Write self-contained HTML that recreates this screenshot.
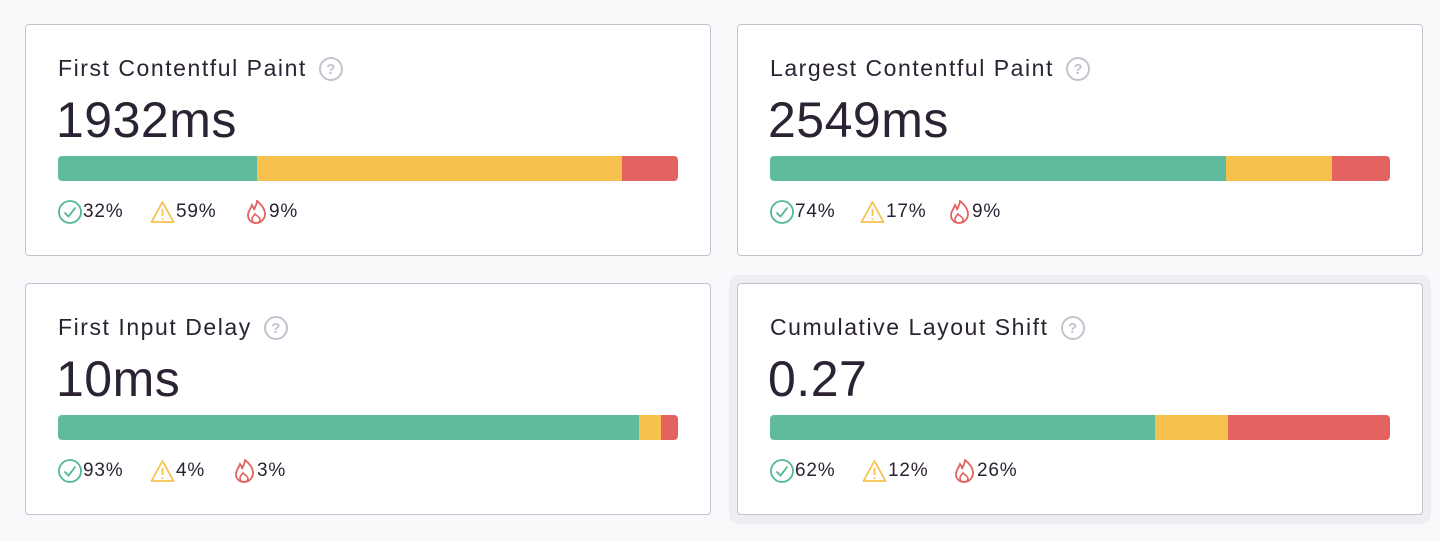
<!DOCTYPE html>
<html><head><style>
body{margin:0;width:1440px;height:541px;background:#f9f9fb;font-family:"Liberation Sans",sans-serif;color:#2b2233;position:relative;overflow:hidden}
.halo{position:absolute;left:729px;top:275px;width:702px;height:249px;background:#efedf2;border-radius:10px}
.card{position:absolute;background:#fff;border:1px solid #c6c0cf;border-radius:4px;width:686px;height:232px;box-sizing:border-box}
.t{position:absolute;left:32px;top:30px;font-size:23px;letter-spacing:1.55px;white-space:nowrap;display:flex;align-items:center}
.q{display:inline-block;width:24px;height:24px;border:2px solid #c6c0cf;border-radius:50%;box-sizing:border-box;color:#c6c0cf;font-size:15px;font-weight:bold;text-align:center;line-height:21px;margin-left:12px;letter-spacing:0}
.v{position:absolute;left:30px;top:66px;font-size:50px;letter-spacing:0.5px}
.bar{position:absolute;left:32px;top:131px;width:620px;height:25px;border-radius:4px;overflow:hidden;display:flex}
.g{background:#60bb9e}.y{background:#f6c14d}.r{background:#e4625f}
.leg{position:absolute;top:175px;left:32px;font-size:19px;height:24px;letter-spacing:0.8px}
.leg span{position:absolute;top:0;display:flex;align-items:center;white-space:nowrap}
svg{display:block;margin-right:1px}
</style></head><body>
<div class="halo"></div>

<div class="card" style="left:25px;top:24px">
<div class="t">First Contentful Paint<span class="q">?</span></div>
<div class="v">1932ms</div>
<div class="bar"><div class="g" style="width:199px"></div><div class="y" style="width:365px"></div><div class="r" style="flex:1"></div></div>
<div class="leg">
<span style="left:0"><svg width="24" height="24" viewBox="0 0 24 24"><circle cx="12" cy="12" r="11" fill="none" stroke="#4fb88f" stroke-width="1.8"/><path d="M6.5 12.5l4 4 7-9" fill="none" stroke="#4fb88f" stroke-width="1.8"/></svg>32%</span>
<span style="left:92px"><svg width="25" height="24" viewBox="0 0 25 24"><path d="M12.5 2L23.5 22H1.5Z" fill="none" stroke="#f6c14d" stroke-width="1.8" stroke-linejoin="round"/><path d="M12.5 9v7M12.5 18.5v1.5" stroke="#f6c14d" stroke-width="1.8"/></svg>59%</span>
<span style="left:187px"><svg width="23" height="24" viewBox="0 0 23 24"><path d="M11 23c-5 0-8-3.5-8-8 0-4 3-6 4-10 1.5 2 2 3.5 2 5 1-3 3-6 3-9 4 3 8 8 8 13 0 5-4 9-9 9z" fill="none" stroke="#e4625f" stroke-width="1.8"/><path d="M11 23c-2.5 0-4-1.5-4-4 0-2 2-3.5 3-5 1 1.5 5 3 5 5.5 0 2-1.5 3.5-4 3.5z" fill="none" stroke="#e4625f" stroke-width="1.6"/></svg>9%</span>
</div></div>

<div class="card" style="left:737px;top:24px">
<div class="t">Largest Contentful Paint<span class="q">?</span></div>
<div class="v">2549ms</div>
<div class="bar"><div class="g" style="width:456px"></div><div class="y" style="width:106px"></div><div class="r" style="flex:1"></div></div>
<div class="leg">
<span style="left:0"><svg width="24" height="24" viewBox="0 0 24 24"><circle cx="12" cy="12" r="11" fill="none" stroke="#4fb88f" stroke-width="1.8"/><path d="M6.5 12.5l4 4 7-9" fill="none" stroke="#4fb88f" stroke-width="1.8"/></svg>74%</span>
<span style="left:90px"><svg width="25" height="24" viewBox="0 0 25 24"><path d="M12.5 2L23.5 22H1.5Z" fill="none" stroke="#f6c14d" stroke-width="1.8" stroke-linejoin="round"/><path d="M12.5 9v7M12.5 18.5v1.5" stroke="#f6c14d" stroke-width="1.8"/></svg>17%</span>
<span style="left:178px"><svg width="23" height="24" viewBox="0 0 23 24"><path d="M11 23c-5 0-8-3.5-8-8 0-4 3-6 4-10 1.5 2 2 3.5 2 5 1-3 3-6 3-9 4 3 8 8 8 13 0 5-4 9-9 9z" fill="none" stroke="#e4625f" stroke-width="1.8"/><path d="M11 23c-2.5 0-4-1.5-4-4 0-2 2-3.5 3-5 1 1.5 5 3 5 5.5 0 2-1.5 3.5-4 3.5z" fill="none" stroke="#e4625f" stroke-width="1.6"/></svg>9%</span>
</div></div>

<div class="card" style="left:25px;top:283px">
<div class="t">First Input Delay<span class="q">?</span></div>
<div class="v">10ms</div>
<div class="bar"><div class="g" style="width:581px"></div><div class="y" style="width:22px"></div><div class="r" style="flex:1"></div></div>
<div class="leg">
<span style="left:0"><svg width="24" height="24" viewBox="0 0 24 24"><circle cx="12" cy="12" r="11" fill="none" stroke="#4fb88f" stroke-width="1.8"/><path d="M6.5 12.5l4 4 7-9" fill="none" stroke="#4fb88f" stroke-width="1.8"/></svg>93%</span>
<span style="left:92px"><svg width="25" height="24" viewBox="0 0 25 24"><path d="M12.5 2L23.5 22H1.5Z" fill="none" stroke="#f6c14d" stroke-width="1.8" stroke-linejoin="round"/><path d="M12.5 9v7M12.5 18.5v1.5" stroke="#f6c14d" stroke-width="1.8"/></svg>4%</span>
<span style="left:175px"><svg width="23" height="24" viewBox="0 0 23 24"><path d="M11 23c-5 0-8-3.5-8-8 0-4 3-6 4-10 1.5 2 2 3.5 2 5 1-3 3-6 3-9 4 3 8 8 8 13 0 5-4 9-9 9z" fill="none" stroke="#e4625f" stroke-width="1.8"/><path d="M11 23c-2.5 0-4-1.5-4-4 0-2 2-3.5 3-5 1 1.5 5 3 5 5.5 0 2-1.5 3.5-4 3.5z" fill="none" stroke="#e4625f" stroke-width="1.6"/></svg>3%</span>
</div></div>

<div class="card" style="left:737px;top:283px">
<div class="t">Cumulative Layout Shift<span class="q">?</span></div>
<div class="v">0.27</div>
<div class="bar"><div class="g" style="width:385px"></div><div class="y" style="width:73px"></div><div class="r" style="flex:1"></div></div>
<div class="leg">
<span style="left:0"><svg width="24" height="24" viewBox="0 0 24 24"><circle cx="12" cy="12" r="11" fill="none" stroke="#4fb88f" stroke-width="1.8"/><path d="M6.5 12.5l4 4 7-9" fill="none" stroke="#4fb88f" stroke-width="1.8"/></svg>62%</span>
<span style="left:92px"><svg width="25" height="24" viewBox="0 0 25 24"><path d="M12.5 2L23.5 22H1.5Z" fill="none" stroke="#f6c14d" stroke-width="1.8" stroke-linejoin="round"/><path d="M12.5 9v7M12.5 18.5v1.5" stroke="#f6c14d" stroke-width="1.8"/></svg>12%</span>
<span style="left:183px"><svg width="23" height="24" viewBox="0 0 23 24"><path d="M11 23c-5 0-8-3.5-8-8 0-4 3-6 4-10 1.5 2 2 3.5 2 5 1-3 3-6 3-9 4 3 8 8 8 13 0 5-4 9-9 9z" fill="none" stroke="#e4625f" stroke-width="1.8"/><path d="M11 23c-2.5 0-4-1.5-4-4 0-2 2-3.5 3-5 1 1.5 5 3 5 5.5 0 2-1.5 3.5-4 3.5z" fill="none" stroke="#e4625f" stroke-width="1.6"/></svg>26%</span>
</div></div>
</body></html>
